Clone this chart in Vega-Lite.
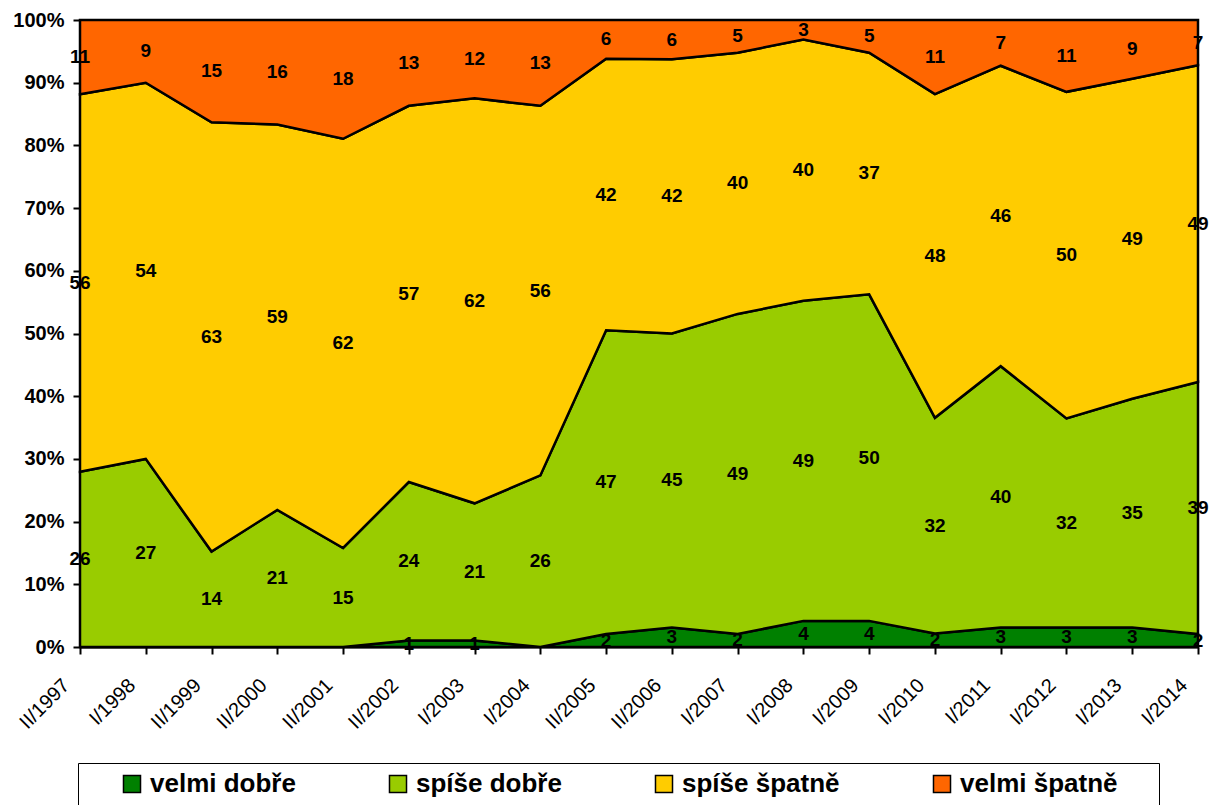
{
  "$schema": "https://vega.github.io/schema/vega-lite/v6.json",
  "width": 1118,
  "height": 627,
  "autosize": {"type": "none"},
  "padding": {"left": 80, "top": 20, "right": 13, "bottom": 158},
  "background": "white",
  "config": {
    "font": "Liberation Sans",
    "view": {"stroke": "black", "strokeWidth": 2},
    "axis": {"grid": false, "domainColor": "black", "domainWidth": 2, "tickColor": "black", "tickWidth": 2, "tickSize": 7, "labelColor": "black", "labelFont": "Liberation Sans", "title": null}
  },
  "data": {
    "values": [
      {"t": "II/1997", "c": "velmi dobře", "k": 1, "v": 0},
      {"t": "II/1997", "c": "spíše dobře", "k": 2, "v": 26},
      {"t": "II/1997", "c": "spíše špatně", "k": 3, "v": 56},
      {"t": "II/1997", "c": "velmi špatně", "k": 4, "v": 11},
      {"t": "I/1998", "c": "velmi dobře", "k": 1, "v": 0},
      {"t": "I/1998", "c": "spíše dobře", "k": 2, "v": 27},
      {"t": "I/1998", "c": "spíše špatně", "k": 3, "v": 54},
      {"t": "I/1998", "c": "velmi špatně", "k": 4, "v": 9},
      {"t": "II/1999", "c": "velmi dobře", "k": 1, "v": 0},
      {"t": "II/1999", "c": "spíše dobře", "k": 2, "v": 14},
      {"t": "II/1999", "c": "spíše špatně", "k": 3, "v": 63},
      {"t": "II/1999", "c": "velmi špatně", "k": 4, "v": 15},
      {"t": "II/2000", "c": "velmi dobře", "k": 1, "v": 0},
      {"t": "II/2000", "c": "spíše dobře", "k": 2, "v": 21},
      {"t": "II/2000", "c": "spíše špatně", "k": 3, "v": 59},
      {"t": "II/2000", "c": "velmi špatně", "k": 4, "v": 16},
      {"t": "II/2001", "c": "velmi dobře", "k": 1, "v": 0},
      {"t": "II/2001", "c": "spíše dobře", "k": 2, "v": 15},
      {"t": "II/2001", "c": "spíše špatně", "k": 3, "v": 62},
      {"t": "II/2001", "c": "velmi špatně", "k": 4, "v": 18},
      {"t": "II/2002", "c": "velmi dobře", "k": 1, "v": 1},
      {"t": "II/2002", "c": "spíše dobře", "k": 2, "v": 24},
      {"t": "II/2002", "c": "spíše špatně", "k": 3, "v": 57},
      {"t": "II/2002", "c": "velmi špatně", "k": 4, "v": 13},
      {"t": "I/2003", "c": "velmi dobře", "k": 1, "v": 1},
      {"t": "I/2003", "c": "spíše dobře", "k": 2, "v": 21},
      {"t": "I/2003", "c": "spíše špatně", "k": 3, "v": 62},
      {"t": "I/2003", "c": "velmi špatně", "k": 4, "v": 12},
      {"t": "I/2004", "c": "velmi dobře", "k": 1, "v": 0},
      {"t": "I/2004", "c": "spíše dobře", "k": 2, "v": 26},
      {"t": "I/2004", "c": "spíše špatně", "k": 3, "v": 56},
      {"t": "I/2004", "c": "velmi špatně", "k": 4, "v": 13},
      {"t": "II/2005", "c": "velmi dobře", "k": 1, "v": 2},
      {"t": "II/2005", "c": "spíše dobře", "k": 2, "v": 47},
      {"t": "II/2005", "c": "spíše špatně", "k": 3, "v": 42},
      {"t": "II/2005", "c": "velmi špatně", "k": 4, "v": 6},
      {"t": "II/2006", "c": "velmi dobře", "k": 1, "v": 3},
      {"t": "II/2006", "c": "spíše dobře", "k": 2, "v": 45},
      {"t": "II/2006", "c": "spíše špatně", "k": 3, "v": 42},
      {"t": "II/2006", "c": "velmi špatně", "k": 4, "v": 6},
      {"t": "I/2007", "c": "velmi dobře", "k": 1, "v": 2},
      {"t": "I/2007", "c": "spíše dobře", "k": 2, "v": 49},
      {"t": "I/2007", "c": "spíše špatně", "k": 3, "v": 40},
      {"t": "I/2007", "c": "velmi špatně", "k": 4, "v": 5},
      {"t": "I/2008", "c": "velmi dobře", "k": 1, "v": 4},
      {"t": "I/2008", "c": "spíše dobře", "k": 2, "v": 49},
      {"t": "I/2008", "c": "spíše špatně", "k": 3, "v": 40},
      {"t": "I/2008", "c": "velmi špatně", "k": 4, "v": 3},
      {"t": "I/2009", "c": "velmi dobře", "k": 1, "v": 4},
      {"t": "I/2009", "c": "spíše dobře", "k": 2, "v": 50},
      {"t": "I/2009", "c": "spíše špatně", "k": 3, "v": 37},
      {"t": "I/2009", "c": "velmi špatně", "k": 4, "v": 5},
      {"t": "I/2010", "c": "velmi dobře", "k": 1, "v": 2},
      {"t": "I/2010", "c": "spíše dobře", "k": 2, "v": 32},
      {"t": "I/2010", "c": "spíše špatně", "k": 3, "v": 48},
      {"t": "I/2010", "c": "velmi špatně", "k": 4, "v": 11},
      {"t": "I/2011", "c": "velmi dobře", "k": 1, "v": 3},
      {"t": "I/2011", "c": "spíše dobře", "k": 2, "v": 40},
      {"t": "I/2011", "c": "spíše špatně", "k": 3, "v": 46},
      {"t": "I/2011", "c": "velmi špatně", "k": 4, "v": 7},
      {"t": "I/2012", "c": "velmi dobře", "k": 1, "v": 3},
      {"t": "I/2012", "c": "spíše dobře", "k": 2, "v": 32},
      {"t": "I/2012", "c": "spíše špatně", "k": 3, "v": 50},
      {"t": "I/2012", "c": "velmi špatně", "k": 4, "v": 11},
      {"t": "I/2013", "c": "velmi dobře", "k": 1, "v": 3},
      {"t": "I/2013", "c": "spíše dobře", "k": 2, "v": 35},
      {"t": "I/2013", "c": "spíše špatně", "k": 3, "v": 49},
      {"t": "I/2013", "c": "velmi špatně", "k": 4, "v": 9},
      {"t": "I/2014", "c": "velmi dobře", "k": 1, "v": 2},
      {"t": "I/2014", "c": "spíše dobře", "k": 2, "v": 39},
      {"t": "I/2014", "c": "spíše špatně", "k": 3, "v": 49},
      {"t": "I/2014", "c": "velmi špatně", "k": 4, "v": 7}
    ]
  },
  "encoding": {
    "x": {
      "field": "t", "type": "ordinal", "sort": null,
      "scale": {"type": "point", "padding": 0},
      "axis": {"labelAngle": -45, "labelAlign": "right", "labelBaseline": "middle", "labelFontSize": 20, "labelPadding": 28, "labelOffset": -14, "domain": true}
    }
  },
  "layer": [
    {
      "mark": {"type": "area", "opacity": 1, "stroke": "black", "strokeWidth": 2.5, "strokeJoin": "miter"},
      "encoding": {
        "y": {
          "field": "v", "type": "quantitative", "stack": "normalize",
          "scale": {"domain": [0, 1]},
          "axis": {"values": [0, 0.1, 0.2, 0.3, 0.4, 0.5, 0.6, 0.7, 0.8, 0.9, 1], "format": ".0%", "labelFontSize": 20, "labelFontWeight": "bold", "labelPadding": 9}
        },
        "color": {
          "field": "c", "type": "nominal",
          "sort": ["velmi dobře", "spíše dobře", "spíše špatně", "velmi špatně"],
          "scale": {"domain": ["velmi dobře", "spíše dobře", "spíše špatně", "velmi špatně"], "range": ["#008000", "#99CC00", "#FFCC00", "#FF6600"]},
          "legend": {
            "orient": "none", "legendX": -2, "legendY": 743, "direction": "horizontal", "columns": 4,
            "title": "\u00a0", "titleOrient": "left", "titleFontSize": 26, "titlePadding": 33,
            "symbolType": "square", "symbolSize": 290, "symbolStrokeColor": "black", "symbolStrokeWidth": 1.5, "symbolOpacity": 1,
            "labelFontSize": 26, "labelFontWeight": "bold", "labelColor": "black", "labelOffset": 5, "labelLimit": 450,
            "labelExpr": "datum.value == 'velmi špatně' ? datum.label + '\u2003\u00a0\u200b' : datum.label",
            "columnPadding": 89, "padding": 8, "strokeColor": "black"
          }
        },
        "order": {"field": "k", "type": "quantitative"}
      }
    },
    {
      "transform": [{"filter": "datum.v > 0"}],
      "mark": {"type": "text", "fontSize": 19, "fontWeight": "bold", "color": "black", "baseline": "middle", "align": "center"},
      "encoding": {
        "y": {"field": "v", "type": "quantitative", "stack": "normalize", "bandPosition": 0.5},
        "detail": {"field": "c"},
        "order": {"field": "k", "type": "quantitative"},
        "text": {"field": "v", "type": "quantitative"}
      }
    }
  ]
}
